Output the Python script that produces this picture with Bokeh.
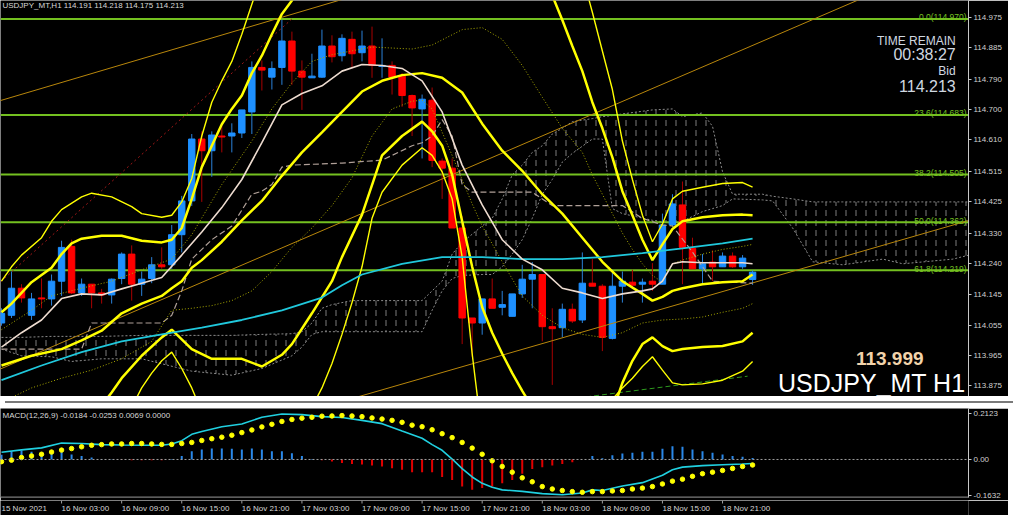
from bokeh.plotting import figure
from bokeh.models import Range1d, FixedTicker, Label, Div, Span, PrintfTickFormatter
from bokeh.layouts import column
from bokeh.core.properties import value
from bokeh.embed import file_html
from bokeh.resources import INLINE

FONT = "Liberation Sans"

# ---------------- candles (hourly, bar 0 = 15 Nov 21:00) ----------------
opens = [114.061, 114.084, 114.165, 114.084, 114.136, 114.133, 114.186, 114.290, 114.151, 114.177,
         114.151, 114.145, 114.194, 114.267, 114.177, 114.194, 114.235, 114.235, 114.325, 114.426,
         114.611, 114.576, 114.620, 114.620, 114.629, 114.692, 114.825, 114.796, 114.825, 114.904,
         114.814, 114.794, 114.796, 114.889, 114.860, 114.909, 114.869, 114.889, 114.828, 114.831,
         114.799, 114.741, 114.701, 114.727, 114.545, 114.524, 114.345, 114.076, 114.061, 114.133,
         114.108, 114.081, 114.148, 114.192, 114.206, 114.050, 114.047, 114.102, 114.070, 114.180,
         114.171, 114.015, 114.171, 114.183, 114.177, 114.186, 114.177, 114.354, 114.414, 114.284,
         114.223, 114.243, 114.229, 114.261, 114.229, 114.191]
highs = [114.105, 114.215, 114.177, 114.151, 114.194, 114.206, 114.307, 114.310, 114.194, 114.177,
         114.163, 114.194, 114.272, 114.293, 114.215, 114.258, 114.287, 114.354, 114.441, 114.626,
         114.634, 114.634, 114.655, 114.658, 114.698, 114.843, 114.846, 114.843, 114.967, 114.932,
         114.846, 114.866, 114.938, 114.921, 114.924, 114.932, 114.935, 114.947, 114.912, 114.843,
         114.808, 114.744, 114.744, 114.765, 114.553, 114.553, 114.380, 114.076, 114.133, 114.194,
         114.157, 114.148, 114.235, 114.243, 114.206, 114.105, 114.119, 114.119, 114.272, 114.252,
         114.177, 114.220, 114.215, 114.220, 114.194, 114.240, 114.388, 114.446, 114.484, 114.316,
         114.267, 114.278, 114.272, 114.272, 114.264, 114.218]
lows = [114.053, 114.076, 114.122, 114.070, 114.105, 114.113, 114.142, 114.148, 114.142, 114.105,
        114.119, 114.119, 114.177, 114.128, 114.142, 114.180, 114.223, 114.223, 114.272, 114.411,
        114.423, 114.498, 114.571, 114.571, 114.614, 114.626, 114.756, 114.759, 114.773, 114.773,
        114.698, 114.794, 114.794, 114.840, 114.843, 114.822, 114.843, 114.794, 114.794, 114.744,
        114.707, 114.620, 114.553, 114.527, 114.432, 114.345, 113.998, 113.960, 114.026, 114.105,
        114.084, 114.081, 114.136, 114.105, 114.006, 113.876, 114.018, 114.061, 114.061, 114.171,
        113.977, 114.012, 114.122, 114.163, 114.122, 114.157, 114.177, 114.351, 114.177, 114.223,
        114.180, 114.186, 114.229, 114.226, 114.223, 114.175]
closes = [114.090, 114.165, 114.136, 114.133, 114.133, 114.186, 114.287, 114.151, 114.177, 114.151,
          114.145, 114.192, 114.267, 114.177, 114.192, 114.235, 114.229, 114.325, 114.426, 114.611,
          114.576, 114.623, 114.617, 114.629, 114.698, 114.825, 114.817, 114.822, 114.904, 114.814,
          114.796, 114.799, 114.889, 114.857, 114.912, 114.866, 114.889, 114.831, 114.831, 114.796,
          114.741, 114.704, 114.730, 114.547, 114.524, 114.345, 114.076, 114.061, 114.133, 114.105,
          114.116, 114.148, 114.192, 114.206, 114.050, 114.044, 114.102, 114.067, 114.180, 114.171,
          114.018, 114.171, 114.186, 114.174, 114.183, 114.177, 114.354, 114.417, 114.287, 114.223,
          114.238, 114.229, 114.261, 114.229, 114.255, 114.213]
bars = list(range(len(opens)))

# ---------------- moving averages ----------------
ma_fast_bars = [0, 2, 4, 6, 8, 10, 12, 14, 16, 18, 20, 22, 24, 26, 28, 30, 32, 34, 36, 38, 40, 42, 44, 46, 48,
                50, 52, 54, 56, 58, 60, 62, 64, 65, 66, 67, 68, 70, 72, 74, 75]
ma_fast = [113.989, 114.032, 114.070, 114.134, 114.148, 114.145, 114.163, 114.180, 114.197, 114.264,
           114.333, 114.406, 114.490, 114.600, 114.713, 114.747, 114.770, 114.814, 114.834, 114.831,
           114.822, 114.785, 114.692, 114.533, 114.414, 114.310, 114.252, 114.220, 114.165, 114.151,
           114.134, 114.148, 114.157, 114.163, 114.186, 114.238, 114.244, 114.241, 114.241, 114.241, 114.238]
ma_slow_bars = [0, 4, 8, 12, 16, 20, 24, 28, 32, 34, 36, 40, 44, 48, 52, 56, 60, 64, 68, 72, 75]
ma_slow = [113.890, 113.934, 113.974, 114.006, 114.027, 114.047, 114.070, 114.099, 114.137, 114.174,
           114.206, 114.238, 114.258, 114.258, 114.252, 114.252, 114.258, 114.270, 114.284, 114.299, 114.313]

# ---------------- band lines ----------------
band_mid_bars = [0, 3, 6, 8, 10, 12, 14, 16, 17, 18, 19, 20, 22, 24, 26, 28, 30, 32, 34, 36, 38, 40, 42, 44,
                 46, 48, 50, 52, 54, 56, 58, 60, 62, 64, 65, 66, 67, 68, 70, 72, 74, 75]
band_mid = [113.934, 113.963, 113.983, 114.009, 114.038, 114.090, 114.119, 114.142, 114.165, 114.186,
            114.226, 114.249, 114.304, 114.368, 114.426, 114.501, 114.571, 114.631, 114.692, 114.753,
            114.785, 114.802, 114.808, 114.794, 114.750, 114.657, 114.576, 114.516, 114.446, 114.388,
            114.316, 114.244, 114.186, 114.148, 114.128, 114.139, 114.157, 114.165, 114.177, 114.183,
            114.186, 114.206]
band_up2_bars = [0, 1, 3, 5, 6, 7, 8, 10, 12, 14, 16, 17, 18, 19, 20, 21, 22, 23, 24, 25, 26, 27, 28, 29, 30,
                 35, 42, 50, 54, 55, 56, 57, 58, 59, 60, 61, 62, 63, 64, 65, 66, 67, 68, 70, 72, 74, 75]
band_up2 = [114.093, 114.119, 114.183, 114.226, 114.267, 114.299, 114.313, 114.322, 114.322, 114.307,
            114.302, 114.310, 114.345, 114.432, 114.527, 114.591, 114.655, 114.701, 114.741, 114.808,
            114.860, 114.924, 114.985, 115.025, 115.09, 115.25, 115.35, 115.25, 115.12, 115.04,
            114.967, 114.889, 114.814, 114.721, 114.643, 114.556, 114.455, 114.383, 114.310, 114.249,
            114.296, 114.342, 114.365, 114.377, 114.383, 114.385, 114.383]
band_up3_bars = [0, 1, 2, 4, 5, 6, 8, 9, 11, 13, 14, 16, 17, 18, 19, 20, 21, 22, 23, 24, 25, 26, 35, 45, 55,
                 58, 59, 60, 61, 62, 63, 64, 65, 66, 67, 68, 70, 72, 74, 75]
band_up3 = [114.186, 114.229, 114.264, 114.316, 114.365, 114.400, 114.438, 114.449, 114.438, 114.409,
            114.388, 114.377, 114.383, 114.423, 114.493, 114.620, 114.721, 114.785, 114.843, 114.924,
            115.014, 115.10, 115.6, 115.7, 115.3, 115.10, 114.990, 114.874, 114.759, 114.605,
            114.490, 114.383, 114.304, 114.357, 114.432, 114.455, 114.467, 114.478, 114.481, 114.467]
band_lo2_bars = [6, 8, 10, 11, 12, 14, 16, 17, 18, 19, 21, 24, 26, 28, 29, 31, 33, 34, 36, 38, 40, 42, 43, 44,
                 45, 46, 47, 48, 49, 50, 51, 52, 53, 56, 59, 61, 62, 63, 64, 65, 66, 67, 68, 70, 72, 74, 75]
band_lo2 = [113.70, 113.752, 113.815, 113.853, 113.896, 113.963, 114.018, 114.041, 114.012, 113.983,
            113.954, 113.954, 113.931, 113.966, 113.998, 114.090, 114.186, 114.258, 114.385, 114.562,
            114.620, 114.663, 114.634, 114.591, 114.504, 114.365, 114.229, 114.108, 114.032, 113.969,
            113.911, 113.858, 113.809, 113.60, 113.60, 113.795, 113.882, 113.948, 113.998, 114.018,
            113.992, 113.977, 113.983, 113.989, 113.992, 114.006, 114.032]
band_lo3_bars = [11, 13, 14, 15, 16, 17, 18, 19, 20, 22, 30, 31, 32, 33, 34, 35, 36, 37, 38, 40, 42, 43, 44,
                 45, 46, 47, 48, 50, 58, 60, 61, 62, 63, 64, 65, 66, 67, 68, 70, 72, 74, 75]
band_lo3 = [113.70, 113.809, 113.867, 113.911, 113.948, 113.974, 113.925, 113.867, 113.795, 113.70,
            113.75, 113.809, 113.867, 113.940, 114.027, 114.122, 114.229, 114.374, 114.452, 114.533,
            114.585, 114.562, 114.513, 114.432, 114.258, 113.969, 113.723, 113.40, 113.30, 113.60,
            113.833, 113.867, 113.896, 113.931, 113.960, 113.920, 113.882, 113.876, 113.879, 113.890,
            113.917, 113.946]
band_up1_bars = [0, 3, 5, 8, 11, 14, 17, 19, 22, 25, 27, 29, 31, 33, 37, 41, 43, 46, 48, 50, 52, 54, 56, 58,
                 59, 60, 61, 62, 63, 64, 65, 66, 67, 68, 70, 72, 74, 75]
band_up1 = [114.041, 114.099, 114.142, 114.165, 114.186, 114.220, 114.252, 114.325, 114.475, 114.605,
            114.701, 114.779, 114.843, 114.863, 114.886, 114.880, 114.892, 114.938, 114.944, 114.909,
            114.831, 114.736, 114.643, 114.571, 114.504, 114.446, 114.388, 114.330, 114.281, 114.238,
            114.203, 114.183, 114.238, 114.249, 114.267, 114.281, 114.290, 114.296]
band_lo1_bars = [0, 3, 6, 9, 12, 15, 17, 19, 21, 23, 25, 27, 29, 31, 33, 35, 37, 39, 41, 42, 43, 45, 47, 48,
                 50, 52, 54, 56, 58, 60, 62, 64, 66, 68, 70, 72, 74, 75]
band_lo1 = [113.824, 113.867, 113.896, 113.920, 113.954, 114.006, 114.099, 114.105, 114.113, 114.128,
            114.157, 114.215, 114.287, 114.345, 114.412, 114.495, 114.620, 114.701, 114.724, 114.727,
            114.701, 114.562, 114.417, 114.351, 114.244, 114.142, 114.084, 114.047, 114.027, 114.018,
            114.032, 114.061, 114.070, 114.073, 114.079, 114.093, 114.105, 114.119]

# ---------------- ichimoku ----------------
kijun_bars = [0, 8, 9, 16, 17, 18, 19, 21, 23, 25, 26, 27, 28, 29, 34, 38, 39, 41, 42, 43, 44, 45, 46, 47,
              53, 55, 62, 64, 66, 67, 69, 71, 75]
kijun = [113.983, 113.983, 114.061, 114.061, 114.084, 114.157, 114.252, 114.310, 114.351, 114.446,
         114.455, 114.475, 114.527, 114.533, 114.539, 114.548, 114.562, 114.591, 114.600, 114.620,
         114.669, 114.620, 114.475, 114.452, 114.452, 114.412, 114.412, 114.374, 114.354, 114.351,
         114.273, 114.186, 114.180]
cloud_bars = [0, 2, 5, 7, 10, 14, 19, 23, 26, 29, 30, 31, 32, 33, 35, 42, 43, 44, 45, 46, 48, 49, 50, 51, 52,
              53, 54, 55, 56, 57, 59, 60, 61, 62, 65, 67, 68, 70, 71, 72, 73, 76, 77, 79, 81, 84, 88, 90, 95, 97]
cloud_top = [114.018, 114.018, 114.021, 114.021, 114.021, 114.024, 114.024, 114.024, 114.027, 114.029,
             114.035, 114.061, 114.105, 114.116, 114.128, 114.128, 114.157, 114.186, 114.267, 114.302,
             114.351, 114.374, 114.432, 114.504, 114.533, 114.571, 114.591, 114.626, 114.643, 114.663,
             114.672, 114.678, 114.681, 114.686, 114.698, 114.701, 114.678, 114.689, 114.649, 114.513,
             114.446, 114.446, 114.440, 114.432, 114.423, 114.423, 114.423, 114.423, 114.423, 114.423]
cloud_bot = [113.983, 113.963, 113.960, 113.946, 113.954, 113.954, 113.917, 113.905, 113.925, 113.963,
             113.989, 114.027, 114.035, 114.035, 114.035, 114.035, 114.099, 114.157, 114.194, 114.203,
             114.206, 114.206, 114.229, 114.267, 114.310, 114.374, 114.446, 114.490, 114.542, 114.568,
             114.611, 114.611, 114.403, 114.388, 114.368, 114.359, 114.365, 114.394, 114.403, 114.412,
             114.432, 114.429, 114.426, 114.345, 114.244, 114.235, 114.252, 114.238, 114.252, 114.267]

# ---------------- drawn objects ----------------
fib_levels = [114.970, 114.683, 114.505, 114.362, 114.219]
fib_names = ["0.0", "23.6", "38.2", "50.0", "61.8"]
fib_diag_bars = [-16, 29]
fib_diag_prices = [113.754, 114.970]
trend1_bars = [-1, 35]
trend1_prices = [114.718, 115.037]
trend2_bars = [-1, 90]
trend2_prices = [113.912, 115.084]
trend3_bars = [30, 97]
trend3_prices = [113.792, 114.371]
green_bars = [56, 74.5]
green_prices = [113.831, 113.902]

price_ticks = [114.975, 114.885, 114.790, 114.700, 114.610, 114.515, 114.425, 114.330,
               114.240, 114.145, 114.055, 113.965, 113.875]
bid = 114.213
ohlc_text = "USDJPY_MT,H1  114.191 114.218 114.175 114.213"

# ---------------- MACD ----------------
macd_hist = [0.022, 0.038, 0.041, 0.035, 0.031, 0.031, 0.038, 0.023, 0.016, 0.009,
             0.001, 0.001, -0.001, -0.003, -0.004, -0.003, -0.003, 0.002, 0.016, 0.038,
             0.046, 0.050, 0.050, 0.049, 0.046, 0.050, 0.046, 0.038, 0.038, 0.028,
             0.016, 0.002, -0.004, -0.009, -0.016, -0.021, -0.023, -0.028, -0.032, -0.040,
             -0.047, -0.058, -0.058, -0.058, -0.080, -0.094, -0.124, -0.139, -0.131, -0.124,
             -0.109, -0.094, -0.065, -0.043, -0.035, -0.028, -0.021, -0.013, 0.000, 0.016,
             0.006, 0.019, 0.027, 0.031, 0.035, 0.035, 0.049, 0.061, 0.058, 0.046,
             0.038, 0.031, 0.023, 0.016, 0.012, 0.0069]
macd_signal = [-0.010, -0.003, 0.009, 0.016, 0.024, 0.034, 0.043, 0.050, 0.058, 0.065,
               0.068, 0.071, 0.071, 0.073, 0.073, 0.071, 0.069, 0.069, 0.073, 0.078,
               0.087, 0.095, 0.102, 0.111, 0.123, 0.135, 0.149, 0.161, 0.174, 0.183,
               0.189, 0.193, 0.198, 0.199, 0.201, 0.199, 0.196, 0.190, 0.185, 0.179,
               0.170, 0.157, 0.150, 0.136, 0.118, 0.100, 0.078, 0.052, 0.024, -0.006,
               -0.032, -0.058, -0.084, -0.102, -0.124, -0.135, -0.142, -0.147, -0.150, -0.147,
               -0.147, -0.144, -0.142, -0.135, -0.131, -0.124, -0.112, -0.099, -0.090, -0.077,
               -0.065, -0.058, -0.050, -0.041, -0.032, -0.0253]
macd_main_bars = [0, 2, 4, 6, 8, 10, 12, 14, 16, 17, 18, 19, 20, 22, 24, 26, 28, 30, 32, 34, 36, 38, 40, 42,
                  43, 44, 45, 46, 47, 48, 49, 50, 52, 54, 56, 58, 59, 60, 62, 64, 66, 67, 68, 70, 72, 74, 75]
macd_main = [0.033, 0.044, 0.053, 0.075, 0.073, 0.068, 0.066, 0.065, 0.065, 0.071, 0.086, 0.115, 0.128,
             0.150, 0.162, 0.193, 0.208, 0.205, 0.196, 0.192, 0.179, 0.164, 0.130, 0.097,
             0.068, 0.042, 0.002, -0.042, -0.080, -0.109, -0.127, -0.139, -0.146, -0.156, -0.161, -0.153,
             -0.139, -0.142, -0.121, -0.106, -0.072, -0.047, -0.035, -0.028, -0.024, -0.021, -0.0184]
macd_ticks = [0.2123, 0.0, -0.1632]
macd_tick_labels = ["0.2123", "0.00", "-0.1632"]
macd_text = "MACD(12,26,9) -0.0184 -0.0253 0.0069 0.0000"

time_label_bars = [0, 6, 12, 18, 24, 30, 36, 42, 48, 54, 60, 66, 72]
time_labels = ["15 Nov 2021", "16 Nov 03:00", "16 Nov 09:00", "16 Nov 15:00", "16 Nov 21:00",
               "17 Nov 03:00", "17 Nov 09:00", "17 Nov 15:00", "17 Nov 21:00", "18 Nov 03:00",
               "18 Nov 09:00", "18 Nov 15:00", "18 Nov 21:00"]

# ---------------- layout helpers (reference pixel -> data) ----------------
W = 1008
RB = 40
X0, X1 = -0.098, 96.56
P_TOP, P_BOT = 115.0251, 113.8413
M_TOP, M_BOT = 0.2332, -0.1739
FIB_GREEN = "#74C020"


def X(px):
    return (px - 1) / 10.17


def P(py):
    return 114.975 - (py - 17.3) / 345.5


xr = Range1d(X0, X1)


def base_fig(height, y0, y1, bottom=0):
    f = figure(width=W, height=height, x_range=xr, y_range=Range1d(y0, y1),
               output_backend="svg", toolbar_location=None, y_axis_location="right",
               min_border_left=0, min_border_right=RB, min_border_top=0, min_border_bottom=bottom,
               background_fill_color="black", border_fill_color="black", outline_line_color=None)
    f.xaxis.visible = False
    f.grid.visible = False
    return f


def style_axis(ax):
    ax.axis_line_color = "#C8C8C8"
    ax.major_tick_line_color = "#C8C8C8"
    ax.major_tick_in = 0
    ax.major_tick_out = 3
    ax.minor_tick_line_color = None
    ax.major_label_standoff = 2
    ax.major_label_text_color = "#D0D0D0"
    ax.major_label_text_font = FONT
    ax.major_label_text_font_size = "8px"


# ================= main chart =================
p = base_fig(396, P_BOT, P_TOP)
ya = p.yaxis[0]
ya.ticker = FixedTicker(ticks=price_ticks)
ya.formatter = PrintfTickFormatter(format="%.3f")
style_axis(ya)

# cloud
p.varea(x=cloud_bars, y1=cloud_bot, y2=cloud_top, fill_color=None, fill_alpha=0,
        hatch_pattern=":", hatch_color="#8A8A8A", hatch_scale=10, hatch_weight=1, hatch_alpha=0.9)
p.line(cloud_bars, cloud_top, line_color="#8A8A8A", line_dash="2 2", line_width=1)
p.line(cloud_bars, cloud_bot, line_color="#8A8A8A", line_dash="2 2", line_width=1)

# fib levels
for lv in fib_levels:
    p.line([X0, X1], [lv, lv], line_color=FIB_GREEN, line_width=2)
p.line(fib_diag_bars, fib_diag_prices, line_color="#A01818", line_dash="2 3", line_width=1)

# candles
up = [c >= o for o, c in zip(opens, closes)]
p.segment(x0=bars, y0=lows, x1=bars, y1=highs, line_width=1,
          line_color=["#2A80D8" if u else "#A80000" for u in up])
p.vbar(x=bars, width=0.64, top=[max(o, c) for o, c in zip(opens, closes)],
       bottom=[min(o, c) for o, c in zip(opens, closes)],
       fill_color=["#1E90FF" if u else "#FF0000" for u in up],
       line_color=["#1E90FF" if u else "#FF0000" for u in up], line_width=1)

# trend lines
p.line(trend1_bars, trend1_prices, line_color="#B8860B", line_width=1)
p.line(trend2_bars, trend2_prices, line_color="#B8860B", line_width=1)
p.line(trend3_bars, trend3_prices, line_color="#B8860B", line_width=1)
p.line(green_bars, green_prices, line_color="#2E9A1E", line_dash="5 3", line_width=1)

# ichimoku kijun
p.line(kijun_bars, kijun, line_color="#B0A098", line_dash="6 3", line_width=1.2)

# bands
p.line(band_up1_bars, band_up1, line_color="#A8A800", line_dash="1 2", line_width=1)
p.line(band_lo1_bars, band_lo1, line_color="#A8A800", line_dash="1 2", line_width=1)
p.line(band_up3_bars, band_up3, line_color="#FFFF00", line_width=1.4)
p.line(band_lo3_bars, band_lo3, line_color="#FFFF00", line_width=1.4)
p.line(band_up2_bars, band_up2, line_color="#FFFF00", line_width=2.5)
p.line(band_lo2_bars, band_lo2, line_color="#FFFF00", line_width=2.5)
p.line(band_mid_bars, band_mid, line_color="#FFFF00", line_width=2.5)

# MAs
p.line(ma_slow_bars, ma_slow, line_color="#20C8DC", line_width=1.8)
p.line(ma_fast_bars, ma_fast, line_color="#EEDCD0", line_width=1.6)

# texts
p.text(x=[X(2)], y=[P(0.5)], text=[ohlc_text], text_font=value(FONT), text_font_size="8px",
       text_color="#D8D8D8", text_baseline="top", text_align="left")
p.text(x=[X(981)] * len(fib_levels), y=[lv + 1.5 / 345.5 for lv in fib_levels],
       text=["%s(%.3f)" % (n, lv) for n, lv in zip(fib_names, fib_levels)],
       text_font=value(FONT), text_font_size="8.5px", text_color=FIB_GREEN,
       text_align="right", text_baseline="alphabetic")
p.text(x=[X(970)] * 4, y=[P(41.5), P(56), P(73), P(88)],
       text=["TIME REMAIN", "00:38:27", "Bid", "%.3f" % bid],
       text_font=value(FONT), text_font_size=["12px", "16px", "12px", "16px"],
       text_color="#D0D8E0", text_align="right", text_baseline="alphabetic")
p.text(x=[X(903)], y=[P(370)], text=["113.999"], text_font=value(FONT), text_font_size="19px",
       text_font_style="bold", text_color="#F2D3AA", text_align="center", text_baseline="alphabetic")
p.text(x=[X(980)], y=[P(395)], text=["USDJPY_MT H1"], text_font=value(FONT), text_font_size="25px",
       text_color="#FFFFFF", text_align="right", text_baseline="alphabetic")

p.add_layout(Label(x=X1 + 0.12, y=bid, x_units="data", y_units="data", text="%.3f" % bid,
                   text_font=FONT, text_font_size="8px", text_color="black",
                   text_baseline="middle", background_fill_color="white"))

sep1 = Div(text="", width=W, height=2, styles={"background-color": "#7A7A7A"})

# ================= MACD =================
pm = base_fig(92, M_BOT, M_TOP, bottom=3)
ma = pm.yaxis[0]
ma.ticker = FixedTicker(ticks=macd_ticks)
ma.major_label_overrides = {t: s for t, s in zip(macd_ticks, macd_tick_labels)}
style_axis(ma)

pm.add_layout(Span(location=0, dimension="width", line_color="#A0A0A0", line_dash="2 2", line_width=1))
pm.add_layout(Span(location=M_BOT, dimension="width", line_color="#7A7A7A", line_width=2))
pm.segment(x0=bars, y0=[0] * len(bars), x1=bars, y1=macd_hist, line_width=2,
           line_color=["#2A88E8" if h >= 0 else "#E00000" for h in macd_hist])
pm.line(macd_main_bars, macd_main, line_color="#20D0E0", line_width=1.6)
pm.scatter(bars, macd_signal, size=4.5, fill_color="#FFFF00", line_color="#FFFF00")
pm.text(x=[X(2)], y=[M_TOP - 3 / 226], text=[macd_text], text_font=value(FONT), text_font_size="8px",
        text_color="#D8D8D8", text_baseline="top", text_align="left")

# ================= time axis =================
pt = base_fig(15, 0, 15)
pt.yaxis.visible = False
pt.segment(x0=time_label_bars[1:], y0=[15] * (len(time_label_bars) - 1),
           x1=time_label_bars[1:], y1=[12] * (len(time_label_bars) - 1), line_color="#A0A0A0")
pt.text(x=time_label_bars, y=[7] * len(time_label_bars), text=time_labels,
        text_font=value(FONT), text_font_size="8px", text_color="#D8D8D8",
        text_align="left", text_baseline="middle")

layout = column(p, sep1, pm, pt, spacing=0)
open("out.html", "w").write(file_html(layout, INLINE))
